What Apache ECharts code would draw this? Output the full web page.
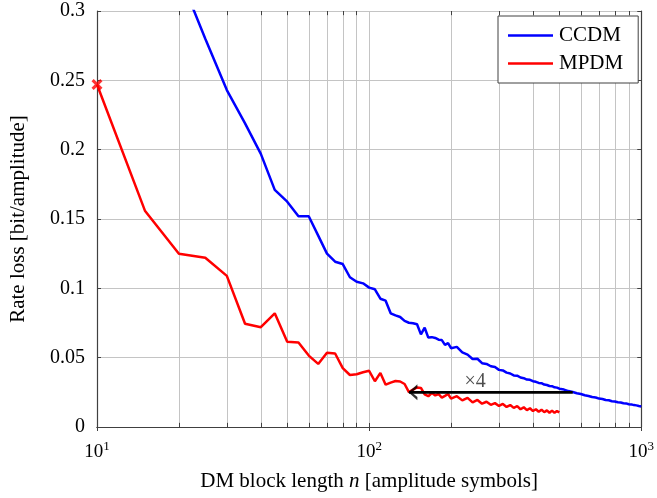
<!DOCTYPE html>
<html>
<head>
<meta charset="utf-8">
<script src="https://cdn.jsdelivr.net/npm/echarts@6/dist/echarts.min.js"></script>
<style>
html,body{margin:0;padding:0;background:#fff;}
#c{width:657px;height:498px;}
</style>
</head>
<body>
<div id="c"></div>
<script>
// ---- data ----
var ccdmN = [20,25,30,35,40,45,50,55,60,65,70,75,80,85,90,95,100,105,110,115,120,125,130,135,140,145,150,155,160,165,170,175,180,185,190,195,200,210,220,230,240,250,260,270,280,290,300,310,320,330,340,350,360,370,380,390,400,410,420,430,440,450,460,470,480,490,500,520,540,560,580,600,620,640,660,680,700,720,740,760,780,800,820,840,860,880,900,920,940,960,980,1000];
var ccdmLoss = [0.327,0.280,0.243,0.219,0.197,0.171,0.1625,0.152,0.152,0.138,0.125,0.1192,0.1175,0.108,0.1048,0.1036,0.1005,0.0993,0.0925,0.0911,0.082,0.0805,0.0793,0.0765,0.0752,0.0748,0.0741,0.0668,0.0716,0.0645,0.0648,0.0642,0.0630,0.0627,0.0592,0.0605,0.0568,0.0578,0.0538,0.0522,0.0490,0.0492,0.0460,0.0455,0.0438,0.0432,0.0412,0.0408,0.0392,0.0386,0.0372,0.0370,0.0357,0.0352,0.0342,0.0340,0.0330,0.0326,0.0318,0.0316,0.0306,0.0303,0.0296,0.0294,0.0286,0.0284,0.0276,0.0270,0.0259,0.0252,0.0243,0.0238,0.0229,0.0224,0.0216,0.0213,0.0205,0.0202,0.0195,0.0193,0.0186,0.0184,0.0178,0.0177,0.0171,0.0170,0.0164,0.0163,0.0158,0.0156,0.0151,0.0148];

var mpdmN = [10,15,20,25,30,35,40,45,50,55,60,65,70,75,80,85,90,95,100,105,110,115,120,125,130,135,140,145,150,155,160,165,170,175,180,185,190,195,200,210,220,230,240,250,260,270,280,290,300,310,320,330,340,350,360,370,380,390,400,410,420,430,440,450,460,470,480,490,500];
var mpdmLoss = [0.247,0.156,0.125,0.122,0.109,0.0745,0.072,0.082,0.0615,0.061,0.0515,0.0455,0.0535,0.053,0.0425,0.0375,0.038,0.0395,0.0405,0.033,0.0390,0.0305,0.032,0.0332,0.0328,0.031,0.0252,0.027,0.0285,0.0282,0.0235,0.0222,0.0245,0.0228,0.0238,0.0212,0.0225,0.0238,0.0205,0.0222,0.0192,0.0210,0.0178,0.0195,0.0168,0.0182,0.0160,0.0172,0.0152,0.0166,0.0145,0.0158,0.0138,0.0150,0.0128,0.0142,0.0122,0.0135,0.0115,0.0128,0.0110,0.0125,0.0107,0.0120,0.0103,0.0118,0.0102,0.0115,0.0105];

var arrowFromN = 560, arrowToN = 140, arrowLoss = 0.025;
var arrowLabel = '×4', arrowLabelN = 245;
var crossPoint = [10, 0.247];

var yTicks = [0, 0.05, 0.1, 0.15, 0.2, 0.25, 0.3];
var xTickBase = '10';
var xTickExp = {10: '1', 100: '2', 1000: '3'};
var minorGrid = [20,30,40,50,60,70,80,90,200,300,400,500,600,700,800,900];

var seriesNames = ['CCDM', 'MPDM'];
var xTitle = 'DM block length {i|n} [amplitude symbols]';
var yTitle = 'Rate loss [bit/amplitude]';

// ---- build ----
function zip(a, b) { return a.map(function (v, i) { return [v, b[i]]; }); }

var FONT = 'Liberation Serif, Times New Roman, DejaVu Serif, serif';
var AX = '#404040';
var GRID = '#c4c4c4';

var mlData = [];
minorGrid.forEach(function (v) {
  mlData.push({ xAxis: v });
});
minorGrid.forEach(function (v) {
  mlData.push([{ coord: [v, 0], lineStyle: { color: AX } }, { coord: [v, 0.003] }]);
  mlData.push([{ coord: [v, 0.3], lineStyle: { color: AX } }, { coord: [v, 0.297] }]);
});

var chevron = 'path://M10,0 L0,5 L10,10 L10,7.9 L3.6,5 L10,2.1 Z';
var cross = 'path://M0,2 L2,0 L5,3 L8,0 L10,2 L7,5 L10,8 L8,10 L5,7 L2,10 L0,8 L3,5 Z';
var legendLine = 'path://M0,0 L45,0 L45,2.5 L0,2.5 Z';

var option = {
  animation: false,
  backgroundColor: '#fff',
  textStyle: { fontFamily: FONT },
  grid: { left: 94, right: 14, top: 11, bottom: 71, containLabel: false },
  legend: {
    data: seriesNames.map(function (n) { return { name: n, icon: legendLine }; }),
    orient: 'vertical',
    left: 498,
    top: 16,
    z: 10,
    padding: [9, 15, 9, 10],
    itemGap: 7,
    itemWidth: 45,
    itemHeight: 2.5,
    itemStyle: { borderWidth: 0, borderColor: 'transparent' },
    backgroundColor: '#fff',
    borderColor: AX,
    borderWidth: 1,
    borderRadius: 0,
    textStyle: { fontFamily: FONT, fontSize: 21, color: '#000', padding: [0, 0, 0, 1] }
  },
  xAxis: [{
    type: 'log', logBase: 10, min: 10, max: 1000,
    name: xTitle, nameLocation: 'middle', nameGap: 44,
    nameTextStyle: { fontFamily: FONT, fontSize: 21, color: '#000',
      rich: { i: { fontFamily: FONT, fontSize: 21, fontStyle: 'italic', color: '#000' } } },
    axisLine: { show: true, lineStyle: { color: AX, width: 1.2 } },
    axisTick: { show: true, inside: true, length: 4, lineStyle: { color: AX } },
    axisLabel: { margin: 13, fontFamily: FONT, fontSize: 19, color: '#000',
      formatter: function (v) {
        var e = xTickExp[Math.round(v)];
        return e ? '{b|' + xTickBase + '}{s|' + e + '}' : '';
      },
      rich: {
        b: { fontFamily: FONT, fontSize: 19, color: '#000', lineHeight: 22, verticalAlign: 'bottom' },
        s: { fontFamily: FONT, fontSize: 13, color: '#000', lineHeight: 22, verticalAlign: 'top', padding: [0, 0, 8, 0] }
      } },
    splitLine: { show: true, lineStyle: { color: GRID, width: 1 } }
  }, {
    type: 'log', logBase: 10, min: 10, max: 1000, position: 'top',
    axisLine: { show: true, lineStyle: { color: AX, width: 1.2 } },
    axisTick: { show: true, inside: true, length: 4, lineStyle: { color: AX } },
    axisLabel: { show: false }, splitLine: { show: false }
  }],
  yAxis: [{
    type: 'value', min: 0, max: 0.3, interval: 0.05,
    name: yTitle, nameLocation: 'middle', nameGap: 68, nameRotate: 90,
    nameTextStyle: { fontFamily: FONT, fontSize: 21, color: '#000' },
    axisLine: { show: true, lineStyle: { color: AX, width: 1.2 } },
    axisTick: { show: true, inside: true, length: 4, lineStyle: { color: AX } },
    axisLabel: { margin: 12, fontFamily: FONT, fontSize: 20, color: '#000',
      formatter: function (v) {
        for (var i = 0; i < yTicks.length; i++) { if (Math.abs(v - yTicks[i]) < 1e-9) return String(yTicks[i]); }
        return '';
      } },
    splitLine: { show: true, lineStyle: { color: GRID, width: 1 } }
  }, {
    type: 'value', min: 0, max: 0.3, interval: 0.05, position: 'right',
    axisLine: { show: true, lineStyle: { color: AX, width: 1.2 } },
    axisTick: { show: true, inside: true, length: 4, lineStyle: { color: AX } },
    axisLabel: { show: false }, splitLine: { show: false }
  }],
  series: [
    {
      name: '_grid', type: 'line', data: [], z: 1, silent: true,
      markLine: {
        z: 1,
        silent: true, symbol: 'none', animation: false,
        label: { show: false },
        lineStyle: { color: GRID, width: 1, type: 'solid' },
        emphasis: { disabled: true },
        data: mlData
      }
    },
    {
      name: seriesNames[0], type: 'line', data: zip(ccdmN, ccdmLoss), z: 3,
      symbol: 'none', showSymbol: false, clip: true, color: '#0000ff',
      itemStyle: { color: '#0000ff' },
      lineStyle: { color: '#0000ff', width: 2.5 }
    },
    {
      name: seriesNames[1], type: 'line', data: zip(mpdmN, mpdmLoss), z: 3,
      symbol: 'none', showSymbol: false, clip: true, color: '#ff0000',
      itemStyle: { color: '#ff0000' },
      lineStyle: { color: '#ff0000', width: 2.5 }
    },
    {
      name: '_cross', type: 'scatter', data: [crossPoint], z: 4, clip: false, silent: true,
      symbol: cross, symbolSize: 11, itemStyle: { color: '#ff0000' }
    },
    {
      name: '_arrow', type: 'line', data: [[arrowFromN, arrowLoss], [arrowToN, arrowLoss]], z: 5,
      symbol: 'none', showSymbol: false, silent: true,
      lineStyle: { color: '#000', width: 2.8 }
    },
    {
      name: '_arrowhead', type: 'scatter', data: [[arrowToN, arrowLoss]], z: 6, silent: true,
      symbol: chevron, symbolSize: [9, 16], symbolOffset: [4, 0],
      itemStyle: { color: '#000' }
    },
    {
      name: '_label', type: 'scatter', data: [[arrowLabelN, arrowLoss]], z: 6, silent: true,
      symbolSize: 0,
      label: { show: true, position: 'top', distance: 1, formatter: arrowLabel,
        fontFamily: FONT, fontSize: 20, color: '#222' }
    }
  ]
};

var chart = echarts.init(document.getElementById('c'), null, { renderer: 'canvas' });
chart.setOption(option);
</script>
</body>
</html>
